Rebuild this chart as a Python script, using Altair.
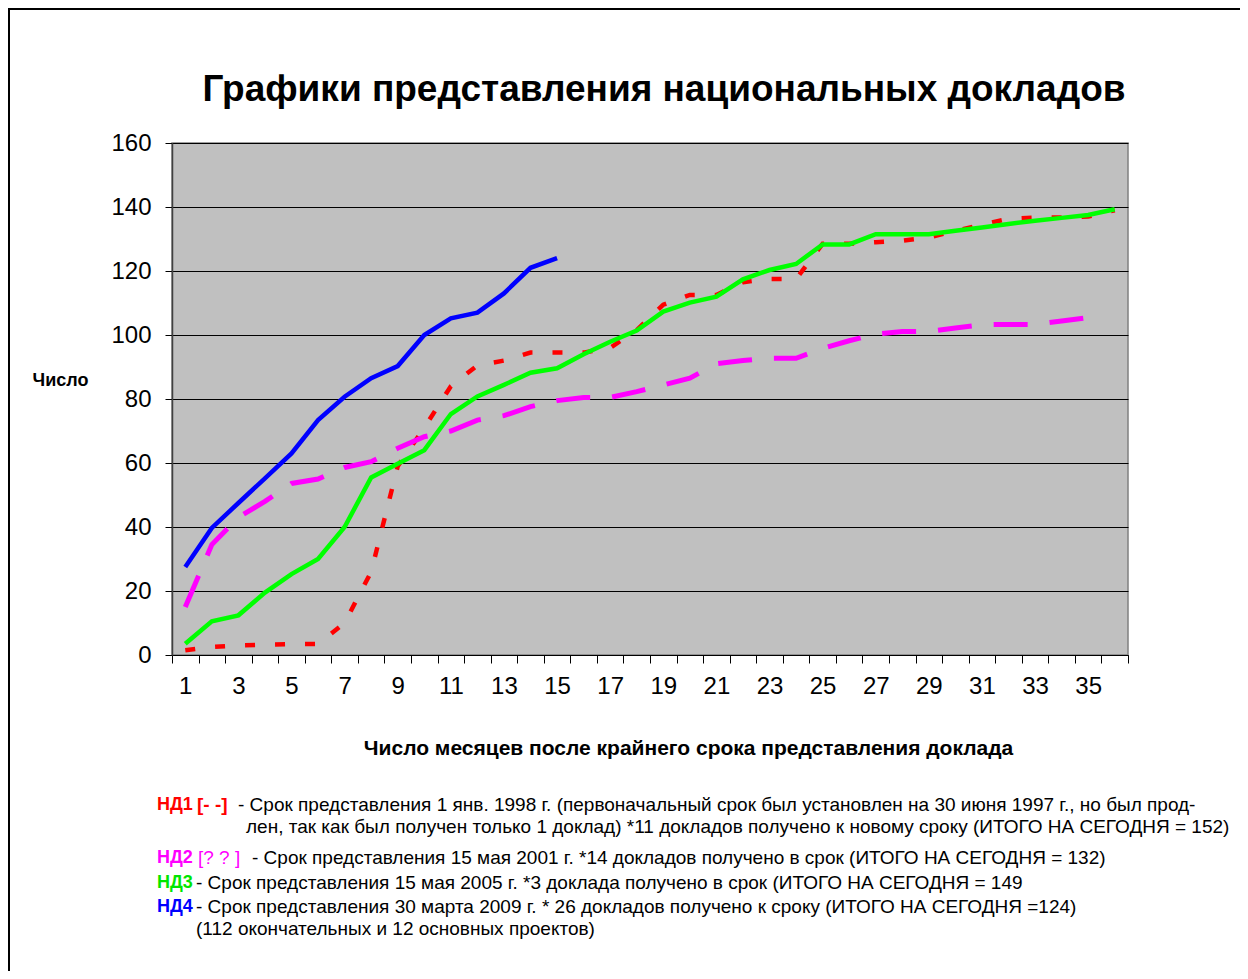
import altair as alt
import pandas as pd

# ---- data ----
months = list(range(1, 37))

nd1 = [1.5, 2.5, 3.0, 3.2, 3.4, 3.4, 10, 26, 59, 71, 84, 90.5, 92, 94.5, 94.5, 94.5,
       96, 101.5, 109.5, 112.5, 112.5, 116.5, 117.5, 117.5, 128.5, 128.5, 129, 129.5,
       130.5, 132.5, 134.5, 136.3, 136.7, 136.7, 137, 139]
nd2 = [15, 34.5, 43, 48, 53.6, 55, 58.6, 60.4, 64.6, 68.2, 70, 73.4, 74.8, 77.6, 79.5,
       80.5, 80.5, 82.3, 84.4, 86.5, 91, 92, 92.7, 92.7, 95.8, 98.2, 100.3, 101.1, 101.1,
       102.2, 103.2, 103.3, 103.3, 104.4, 105.4]
nd3 = [3.5, 10.5, 12.4, 19.5, 25.3, 30, 40, 55.5, 59.8, 64, 75.3, 80.8, 84.4, 88.2, 89.6,
       94, 97.9, 101.4, 107.3, 110.1, 112, 117.4, 120.3, 122.2, 128.3, 128.3, 131.5, 131.5,
       131.5, 132.6, 133.6, 134.7, 135.7, 136.6, 137.5, 139.3]
nd4 = [27.5, 39.7, 47.5, 55.2, 63, 73.4, 80.7, 86.5, 90.3, 100, 105.2, 107, 113, 121, 124]

series_names = ["НД1", "НД2", "НД3", "НД4"]
y_ticks = [0, 20, 40, 60, 80, 100, 120, 140, 160]

title_text = "Графики представления национальных докладов"
y_title = "Число"
x_title = "Число месяцев после крайнего срока представления доклада"

legend_lines = [
    ("НД1", "[- -]", "- Срок представления 1 янв. 1998 г.  (первоначальный срок был установлен на 30 июня 1997 г., но был прод-"),
    ("", "", "лен, так как был получен только 1 доклад) *11 докладов получено к новому сроку (ИТОГО НА СЕГОДНЯ = 152)"),
    ("НД2", "[? ? ]", "- Срок представления 15 мая 2001 г. *14 докладов получено в срок (ИТОГО НА СЕГОДНЯ = 132)"),
    ("НД3", "", "- Срок представления 15 мая 2005 г. *3 доклада получено в срок (ИТОГО НА СЕГОДНЯ = 149"),
    ("НД4", "", "- Срок представления 30 марта 2009 г. * 26 докладов получено к сроку (ИТОГО НА СЕГОДНЯ =124)"),
    ("", "", "(112 окончательных и 12 основных проектов)"),
]

# ---- build table ----
rows = []
for name, vals in zip(series_names, [nd1, nd2, nd3, nd4]):
    for m, v in zip(months, vals):
        rows.append({"month": m, "value": v, "series": name})
df = pd.DataFrame(rows)

FONT = "Liberation Sans"
W, H = 956, 512

x_enc = alt.X(
    "month:O",
    bandPosition=0.5,
    scale=alt.Scale(type="band", domain=months, paddingInner=0, paddingOuter=0),
    axis=alt.Axis(
        title=x_title, titleFont=FONT, titleFontSize=21, titleFontWeight="bold",
        titleColor="black", titleX=516, titleY=93, titleAlign="center",
        titleBaseline="middle",
        labelAngle=0, labelFont=FONT, labelFontSize=24, labelColor="black",
        labelPadding=11, labelExpr="datum.value % 2 == 1 ? datum.label : ''",
        tickBand="extent", tickSize=8, tickColor="#000000", tickWidth=1,
        domainColor="#000000", domainWidth=1, grid=False,
    ),
)
y_enc = alt.Y(
    "value:Q",
    scale=alt.Scale(domain=[0, 160], nice=False, zero=True),
    axis=alt.Axis(
        values=y_ticks, title=y_title, titleFont=FONT, titleFontSize=18,
        titleFontWeight="bold", titleColor="black", titleAngle=0,
        titleX=-140, titleY=237, titleAlign="left", titleBaseline="middle",
        labelFont=FONT, labelFontSize=24, labelColor="black", labelPadding=14,
        tickSize=7, tickColor="#000000", domainColor="#404040", domainWidth=1.5,
        grid=True, gridColor="#000000", gridWidth=1,
    ),
)

base = alt.Chart(df)


def series_line(name, color, width, dash=None):
    kw = dict(color=color, strokeWidth=width, strokeCap="butt", strokeJoin="miter")
    if dash:
        kw["strokeDash"] = dash
    return base.transform_filter(alt.datum.series == name).mark_line(**kw).encode(
        x=x_enc, y=y_enc
    )


l1 = series_line("НД1", "#FF0000", 4.5, [10, 20])
l2 = series_line("НД2", "#FF00FF", 5, [34, 22])
l3 = series_line("НД3", "#00FF00", 4.5)
l4 = series_line("НД4", "#0000FF", 4.5)


def label(text, x, y, color="black", size=19, bold=False, align="left", baseline="middle"):
    return alt.Chart(pd.DataFrame({"t": [text]})).mark_text(
        font=FONT, fontSize=size, fontWeight="bold" if bold else "normal",
        color=color, align=align, baseline=baseline,
    ).encode(text="t:N", x=alt.value(x), y=alt.value(y))


texts = [label(title_text, 492, -42, size=37, bold=True, align="center",
               baseline="alphabetic")]

leg_colors = {"НД1": "#FF0000", "НД2": "#FF00FF", "НД3": "#00E600", "НД4": "#0000FF"}
leg_y = [662, 684, 715, 740, 764, 786]
main_x = [66, 74, 80, 24, 24, 24]
bracket_x = {"НД1": 25, "НД2": 26}
for (tag, br, txt), yy, xx in zip(legend_lines, leg_y, main_x):
    if tag:
        texts.append(label(tag, -15, yy, color=leg_colors[tag], size=18, bold=True))
    if br:
        texts.append(label(br, bracket_x[tag], yy, color=leg_colors[tag], bold=(tag == "НД1")))
    texts.append(label(txt, xx, yy))

frame = alt.Chart(pd.DataFrame({"a": [0]})).mark_rect(
    filled=False, stroke="black", strokeWidth=2
).encode(x=alt.value(-163), x2=alt.value(1120), y=alt.value(-134), y2=alt.value(900))

chart = alt.layer(l1, l2, l3, l4, *texts, frame).properties(
    width=W, height=H,
    autosize=alt.AutoSizeParams(type="none"),
    padding={"left": 164, "top": 135, "right": 112, "bottom": 316},
    background="white",
).configure_view(fill="#C0C0C0", stroke="#808080", strokeWidth=1.5)

chart.save("out.html", embed_options={"renderer": "svg", "actions": False})
